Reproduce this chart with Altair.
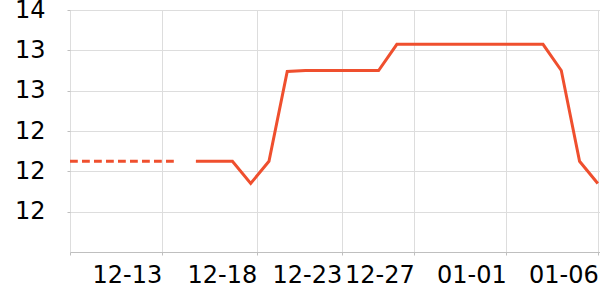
import json
import altair as alt
import pandas as pd

# ---- data ----
dash_dates = ["2024-12-08T00:00:00", "2024-12-14T00:00:00"]
dash_values = [12.1, 12.1]

solid_dates = [
    "2024-12-15T00:00:00", "2024-12-16T00:00:00", "2024-12-17T00:00:00",
    "2024-12-18T00:00:00", "2024-12-19T00:00:00", "2024-12-20T00:00:00",
    "2024-12-21T00:00:00", "2024-12-22T00:00:00", "2024-12-23T00:00:00",
    "2024-12-24T00:00:00", "2024-12-25T00:00:00", "2024-12-26T00:00:00",
    "2024-12-27T00:00:00", "2024-12-28T00:00:00", "2024-12-29T00:00:00",
    "2024-12-30T00:00:00", "2024-12-31T00:00:00", "2025-01-01T00:00:00",
    "2025-01-02T00:00:00", "2025-01-03T00:00:00", "2025-01-04T00:00:00",
    "2025-01-05T00:00:00", "2025-01-06T00:00:00",
]
solid_values = [
    12.1, 12.1, 12.1, 11.88, 12.1, 12.99, 13.0, 13.0, 13.0, 13.0, 13.0,
    13.26, 13.26, 13.26, 13.26, 13.26, 13.26, 13.26, 13.26, 13.26,
    13.0, 12.1, 11.88,
]

# x tick positions (date, hour, minute) and their labels
x_ticks = [
    (2024, 12, 8, 2, 38), (2024, 12, 13, 3, 5), (2024, 12, 18, 7, 53),
    (2024, 12, 22, 23, 32), (2024, 12, 26, 22, 55), (2024, 12, 31, 23, 46),
    (2025, 1, 6, 0, 38),
]
x_labels = ["", "12-13", "12-18", "12-23", "12-27", "01-01", "01-06"]
x_domain = [(2024, 12, 8, 2, 38), (2025, 1, 6, 2, 51)]

y_ticks = [11.6, 12.0, 12.4, 12.8, 13.2, 13.6]
y_domain = [11.2, 13.6]

LINE = "#ef4f2e"
FONT = "DejaVu Sans"
FS = 24


def dt(t):
    return alt.DateTime(year=t[0], month=t[1], date=t[2], hours=t[3], minutes=t[4])


dash_df = pd.DataFrame({"date": dash_dates, "value": dash_values})
solid_df = pd.DataFrame({"date": solid_dates, "value": solid_values})

label_expr = f"{json.dumps(x_labels)}[round(datum.index * {len(x_ticks) - 1})]"

x_enc = alt.X(
    "date:T",
    scale=alt.Scale(domain=[dt(d) for d in x_domain], nice=False),
    axis=alt.Axis(
        values=[dt(t) for t in x_ticks],
        labelExpr=label_expr,
        labelAlign="right",
        labelFlush=False,
        labelOverlap=False,
        labelPadding=8,
        labelFont=FONT,
        labelFontSize=FS,
        labelColor="black",
        tickSize=3,
        tickColor="#bfbfbf",
        domainColor="#bfbfbf",
        gridColor="#dddddd",
        title=None,
    ),
)
y_enc = alt.Y(
    "value:Q",
    scale=alt.Scale(domain=y_domain, nice=False, zero=False),
    axis=alt.Axis(
        values=y_ticks,
        format=".0f",
        labelPadding=22,
        labelFont=FONT,
        labelFontSize=FS,
        labelColor="black",
        labelBaseline="middle",
        tickSize=3,
        tickColor="#bfbfbf",
        domain=False,
        gridColor="#dddddd",
        title=None,
    ),
)

dashed = alt.Chart(dash_df).mark_line(
    color=LINE, strokeWidth=3, strokeDash=[7.8, 4.2], strokeDashOffset=10, clip=True
).encode(x=x_enc, y=y_enc)

solid = alt.Chart(solid_df).mark_line(
    color=LINE, strokeWidth=3, clip=True
).encode(x=x_enc, y=y_enc)

chart = (
    alt.layer(dashed, solid)
    .properties(
        width=530,
        height=242,
        padding={"left": 70, "top": 10, "right": 0, "bottom": 48},
        autosize=alt.AutoSizeParams(type="none"),
    )
    .configure_view(stroke=None)
)

chart.save("out.html", embed_options={"renderer": "svg", "actions": False})
